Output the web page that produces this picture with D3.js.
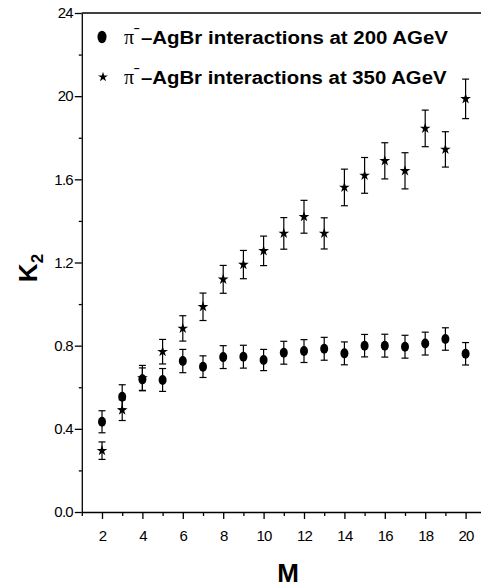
<!doctype html>
<meta charset="utf-8">

<style>
    body {
        margin: 0;
        background: #fff;
    }
    text {
        fill: #000;
        font-family: "Liberation Sans", Arial, sans-serif;
    }
</style>

<div id="chart"></div>

<script src="https://d3js.org/d3.v7.min.js"></script>

<script>

// multiplicity bins
let mValues = [2, 3, 4, 5, 6, 7, 8, 9, 10, 11, 12, 13, 14, 15, 16, 17, 18, 19, 20]

// K2 for pi- AgBr at 200 AGeV (circles)
let k200 = [0.434, 0.554, 0.638, 0.635, 0.726, 0.699, 0.745, 0.747, 0.731, 0.766,
            0.774, 0.785, 0.763, 0.800, 0.800, 0.795, 0.810, 0.832, 0.761]
let err200 = [0.053, 0.058, 0.055, 0.055, 0.056, 0.052, 0.055, 0.055, 0.051, 0.055,
              0.055, 0.055, 0.055, 0.054, 0.055, 0.055, 0.055, 0.054, 0.054]

// K2 for pi- AgBr at 350 AGeV (stars)
let k350 = [0.295, 0.490, 0.645, 0.771, 0.883, 0.987, 1.119, 1.190, 1.256, 1.340,
            1.420, 1.340, 1.561, 1.619, 1.689, 1.641, 1.845, 1.744, 1.987]
let err350 = [0.042, 0.050, 0.060, 0.059, 0.061, 0.066, 0.067, 0.068, 0.071, 0.076,
              0.079, 0.075, 0.088, 0.086, 0.087, 0.087, 0.088, 0.085, 0.095]

let yTicks = [0, 0.4, 0.8, 1.2, 1.6, 2.0, 2.4]
let yTickLabels = ["0.0", "0.4", "0.8", "1.2", "1.6", "20", "24"]
let yMinorTicks = [0.2, 0.6, 1.0, 1.4, 1.8, 2.2]
let xTicks = [2, 4, 6, 8, 10, 12, 14, 16, 18, 20]
let xMinorTicks = [1, 3, 5, 7, 9, 11, 13, 15, 17, 19, 21]

let legendLabels = ["\u2013AgBr interactions at 200 AGeV", "\u2013AgBr interactions at 350 AGeV"]

let width = 481, height = 587

let svg = d3.select("#chart")
    .append("svg")
    .attr("width", width)
    .attr("height", height)

let xScale = d3.scaleLinear().domain([1, 21]).range([81.8, 485.8])
let yScale = d3.scaleLinear().domain([0, 2.4]).range([512, 13])

// frame top line
svg.append("line")
    .attr("x1", xScale(1)).attr("x2", width)
    .attr("y1", yScale(2.4)).attr("y2", yScale(2.4))
    .attr("stroke", "#000").attr("stroke-width", 1.3)

// y axis
let yAxis = d3.axisLeft(yScale)
    .tickValues(yTicks)
    .tickFormat((d, i) => yTickLabels[i])
    .tickSize(7).tickSizeOuter(0).tickPadding(2)
svg.append("g")
    .attr("transform", "translate(" + xScale(1) + ",0)")
    .call(yAxis)
svg.append("g")
    .attr("transform", "translate(" + xScale(1) + ",0)")
    .call(d3.axisLeft(yScale).tickValues(yMinorTicks).tickFormat("").tickSize(3).tickSizeOuter(0))
    .select(".domain").remove()

// x axis
let xAxis = d3.axisBottom(xScale)
    .tickValues(xTicks)
    .tickSize(7).tickSizeOuter(0).tickPadding(11)
svg.append("g")
    .attr("transform", "translate(0," + yScale(0) + ")")
    .call(xAxis)
svg.append("g")
    .attr("transform", "translate(0," + yScale(0) + ")")
    .call(d3.axisBottom(xScale).tickValues(xMinorTicks).tickFormat("").tickSize(4).tickSizeOuter(0))
    .select(".domain").remove()

svg.selectAll(".domain, .tick line")
    .attr("stroke", "#000").attr("stroke-width", 1.3)
svg.selectAll(".tick text")
    .attr("fill", "#000")
    .style("font-size", "15px")
    .style("font-family", "'Liberation Sans', Arial, sans-serif")
    .style("letter-spacing", "-0.8px")

// axis titles
svg.append("text")
    .attr("x", 288).attr("y", 582)
    .attr("text-anchor", "middle")
    .style("font-size", "26px").style("font-weight", "bold")
    .text("M")

let kLabel = svg.append("text")
    .attr("transform", "translate(37,268) rotate(-90)")
    .attr("text-anchor", "middle")
    .style("font-size", "26px").style("font-weight", "bold")
kLabel.append("tspan").text("K")
kLabel.append("tspan").attr("dy", 6).style("font-size", "17px").text("2")

// error bars
function drawErrors(vals, errs) {
    let g = svg.append("g").attr("stroke", "#000").attr("stroke-width", 1.2)
    mValues.forEach((m, i) => {
        let x = xScale(m)
        let y0 = yScale(vals[i] - errs[i]), y1 = yScale(vals[i] + errs[i])
        g.append("line").attr("x1", x).attr("x2", x).attr("y1", y0).attr("y2", y1)
        g.append("line").attr("x1", x - 3.5).attr("x2", x + 3.5).attr("y1", y0).attr("y2", y0)
        g.append("line").attr("x1", x - 3.5).attr("x2", x + 3.5).attr("y1", y1).attr("y2", y1)
    })
}
drawErrors(k350, err350)
drawErrors(k200, err200)

let star = d3.symbol().type(d3.symbolStar).size(36)

svg.append("g").selectAll("path")
    .data(k350)
    .join("path")
    .attr("d", star)
    .attr("transform", (d, i) => "translate(" + xScale(mValues[i]) + "," + yScale(d) + ")")
    .attr("fill", "#000")

svg.append("g").selectAll("ellipse")
    .data(k200)
    .join("ellipse")
    .attr("cx", (d, i) => xScale(mValues[i]))
    .attr("cy", d => yScale(d))
    .attr("rx", 4).attr("ry", 5)
    .attr("fill", "#000")

// legend
let legend = svg.append("g")
legend.append("ellipse")
    .attr("cx", 102).attr("cy", 37)
    .attr("rx", 4.5).attr("ry", 6.2)
    .attr("fill", "#000")
legend.append("path")
    .attr("d", d3.symbol().type(d3.symbolStar).size(30))
    .attr("transform", "translate(103,77)")
    .attr("fill", "#000")

legendLabels.forEach((lab, i) => {
    let base = 44 + i * 40
    // pi, superscript minus and label in one text element
    let t = legend.append("text")
        .attr("x", 124).attr("y", base)
    t.append("tspan")
        .style("font-family", "'Liberation Serif', serif")
        .style("font-size", "20px")
        .text("\u03c0")
    t.append("tspan")
        .attr("dy", -12)
        .style("font-size", "10px").style("font-weight", "bold")
        .text("\u2212")
    t.append("tspan")
        .attr("x", 141).attr("dy", 12)
        .attr("textLength", 307 - i * 1.5)
        .attr("lengthAdjust", "spacingAndGlyphs")
        .style("font-size", "18px").style("font-weight", "bold")
        .text(lab)
})

</script>
